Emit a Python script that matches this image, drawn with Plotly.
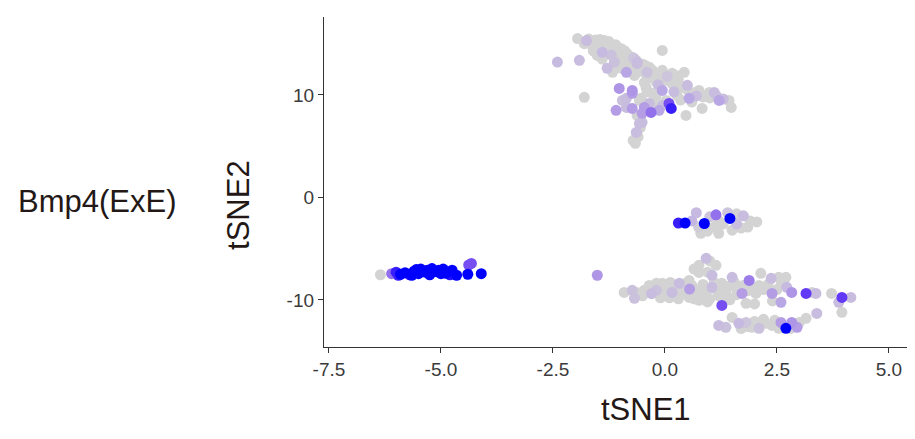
import plotly.graph_objects as go

# ---- data (tSNE coordinates and Bmp4 expression, 0=none, 1=max) ----
# cluster A (left, high expression)
a_x = [-6.35, -6.1, -6.0, -5.9, -5.8, -5.7, -5.6, -5.5, -5.45, -5.35, -5.25, -5.2, -5.1, -5.0,
       -4.95, -4.85, -4.8, -4.75, -4.65, -5.65, -5.55, -5.05, -4.4, -4.1, -4.38, -4.32, -5.95, -5.3, -4.9]
a_y = [-7.55, -7.45, -7.3, -7.5, -7.35, -7.55, -7.2, -7.45, -7.0, -7.3, -7.55, -6.95, -7.25, -7.45,
       -7.0, -7.3, -7.55, -7.1, -7.6, -7.6, -7.05, -7.1, -7.5, -7.45, -6.6, -6.45, -7.6, -7.1, -7.4]
a_e = [0.0, 0.75, 0.95, 1.0, 1.0, 0.95, 1.0, 1.0, 1.0, 1.0, 1.0, 1.0, 1.0, 1.0,
       1.0, 1.0, 0.97, 1.0, 1.0, 1.0, 1.0, 1.0, 1.0, 1.0, 0.85, 0.85, 0.95, 1.0, 1.0]

# cluster B (small, centre)
b_x = [0.45, 0.88, 1.45, 1.14, 0.7, 0.6, 0.75, 0.95, 1.1, 1.2, 1.3, 1.5, 1.6, 1.75, 1.9, 2.05,
       1.85, 1.4, 1.0, 0.8, 1.6, 1.2, 0.3, 1.7]
b_y = [-2.5, -2.55, -2.05, -1.7, -1.5, -2.3, -2.9, -3.3, -2.9, -3.5, -2.6, -3.2, -2.6, -1.8, -2.3, -2.4,
       -2.9, -1.5, -1.9, -3.5, -1.6, -2.3, -2.5, -3.0]
b_e = [1.0, 1.0, 1.0, 0.75, 0.35, 0.4, 0.1, 0.0, 0.0, 0.0, 0.0, 0.0, 0.3, 0.3, 0.0, 0.0,
       0.0, 0.2, 0.2, 0.0, 0.0, 0.0, 0.95, 0.0]

# cluster C (top)
c_x = [-1.95, -1.75, -1.62, -1.35, -1.5, -1.4, -1.2, -0.97, -1.1, -1.25, -0.84, -0.91, -1.13, -1.29,
       -1.17, -0.97, -0.75, -0.62, -0.86, -0.68, -0.53, -0.40, -0.46, -1.58, -1.51, -1.3, -1.05, -0.9,
       -1.0, -0.8, -0.7, -0.6, -0.5, -1.4, -1.2, -1.6, -1.8, -1.45, -0.35, -0.28, -0.62,
       -2.4, -1.91, -1.80, -0.06,
       -0.06, 0.16, 0.43, 0.50, 0.16, -0.06, -0.28, -0.42, -1.02, -0.73, -0.95, -0.57, -0.35, 0.09,
       0.03, 0.27, 0.54, 0.76, 0.99, 1.10, 1.21, 1.43, 1.48, 0.83, 0.47, 0.14, -0.13, -0.51, -0.51,
       -0.73, -0.86, -1.09, -0.73, -0.86, -0.46, -0.62, -0.57, -0.64, -0.71, -0.66, -0.31, -0.53,
       0.32, 0.5, 0.65, 0.85, 1.0, 1.15, 1.3, 0.2, 0.35, -0.2, -0.4, -0.25, 0.05, -0.15, 0.3, 0.6,
       0.7, -0.05, -0.2, -0.55, -0.6,
       -1.7, -1.55, -1.3, -1.15, -1.0, -0.85, -0.75, -0.65, -0.45, -0.3, -0.15, -0.55, -0.8, -1.05,
       -1.35, -1.65, -0.2, 0.0, 0.25, -0.4, -0.7, -0.95]
c_y = [15.5, 15.3, 15.1, 15.3, 15.0, 14.15, 14.6, 14.5, 14.9, 15.2, 13.85, 13.2, 13.2, 12.6,
       12.2, 12.6, 12.9, 13.2, 12.2, 11.9, 12.6, 12.2, 11.2, 14.6, 13.85, 14.0, 14.0, 14.3,
       13.6, 13.4, 13.6, 12.9, 13.0, 13.5, 13.9, 14.3, 15.0, 15.4, 12.7, 12.4, 13.07,
       13.2, 13.37, 9.76, 14.34,
       12.4, 12.1, 12.2, 10.93, 11.1, 10.44, 10.15, 10.73, 10.63, 10.15, 9.46, 9.46, 9.17, 9.17,
       9.46, 9.95, 9.66, 10.44, 10.24, 10.24, 9.46, 9.46, 8.78, 8.68, 8.0, 8.68, 8.49, 8.20, 7.32,
       10.44, 9.66, 8.49, 8.68, 8.78, 8.78, 8.0, 7.22, 6.34, 5.56, 5.27, 8.29, 9.66,
       10.63, 10.5, 10.2, 9.8, 9.7, 9.9, 9.6, 10.3, 9.5, 9.8, 10.3, 11.6, 11.8, 11.0, 11.5, 9.3,
       9.9, 9.0, 8.8, 6.8, 5.9,
       15.45, 15.35, 15.0, 14.7, 14.2, 14.05, 13.7, 13.4, 12.9, 12.1, 12.0, 12.3, 12.5, 12.9,
       14.6, 14.9, 11.3, 11.4, 11.9, 11.6, 12.7, 13.1]
c_e = [0.0, 0.3, 0.0, 0.0, 0.0, 0.35, 0.0, 0.0, 0.0, 0.0, 0.0, 0.0, 0.25, 0.3,
       0.0, 0.0, 0.0, 0.3, 0.5, 0.0, 0.0, 0.25, 0.0, 0.0, 0.0, 0.0, 0.0, 0.0,
       0.0, 0.0, 0.2, 0.0, 0.0, 0.0, 0.25, 0.0, 0.0, 0.0, 0.0, 0.0, 0.3,
       0.35, 0.3, 0.0, 0.0,
       0.0, 0.0, 0.0, 0.3, 0.0, 0.5, 0.0, 0.0, 0.6, 0.55, 0.25, 0.0, 0.3, 0.85,
       0.0, 0.0, 0.5, 0.0, 0.0, 0.3, 0.5, 0.0, 0.0, 0.0, 0.0, 0.95, 0.5, 0.55, 0.3,
       0.6, 0.3, 0.55, 0.55, 0.3, 0.55, 0.0, 0.3, 0.3, 0.0, 0.0, 0.75, 0.0,
       0.0, 0.0, 0.0, 0.0, 0.0, 0.2, 0.3, 0.3, 0.0, 0.0, 0.0, 0.0, 0.2, 0.3, 0.0, 0.0,
       0.3, 0.3, 0.0, 0.0, 0.0,
       0.0, 0.0, 0.0, 0.0, 0.0, 0.0, 0.0, 0.0, 0.0, 0.0, 0.0, 0.0, 0.0, 0.0,
       0.0, 0.0, 0.0, 0.0, 0.0, 0.0, 0.0, 0.0]

# cluster D (bottom right)
d_x = [-1.51, -0.91, -0.73, -0.68, -0.46, -0.35, -0.19, -0.19, -0.06, 0.03, 0.16, 0.32, 0.32, 0.47,
       0.54, 0.76, 0.92, 0.76, 1.14, 1.05, 0.54, 0.76, 0.92, 1.05, 1.27, 1.36, 1.27, 1.50, 1.59,
       1.72, 1.88, 1.81, 2.03, 2.14, 2.37, 2.54, 2.39, 2.59, 2.70, 2.72, 2.83, 3.15, 3.28, 3.37,
       3.72, 3.95, 4.15, 3.88, 3.95, 3.39,
       1.50, 1.36, 1.65, 1.81, 1.94, 2.10, 2.25, 2.39, 2.59, 2.70, 2.83, 2.95, 3.15, 2.54,
       -0.28, 0.0, 0.1, 0.25, 0.4, 0.6, 0.7, 0.85, 0.88, 1.0, 1.15, 1.2, 1.4, 1.45, 1.6, 1.75,
       1.95, 2.2, 2.3, 2.5, 0.3, 0.12, -0.5, -0.3, 0.55, 0.1, 0.65, 0.95, 1.0, 0.65, 0.95, 1.3,
       2.0, 2.4, 2.2, 2.0, 1.7, 2.8, 1.2, 3.0,
       0.2, 0.45, 0.8, 1.1, 1.3, 1.55, 1.85, 2.1, 2.6, -0.6, -0.1, 2.05, 2.45, 1.85]
d_y = [-7.6, -9.27, -9.07, -9.85, -9.07, -8.59, -9.07, -8.39, -8.39, -9.37, -9.27, -8.39, -9.37, -8.78,
       -8.10, -6.63, -5.95, -7.32, -6.63, -7.61, -9.76, -10.05, -9.37, -8.78, -8.39, -9.37, -10.54, -7.80, -8.88,
       -9.37, -8.10, -10.34, -9.37, -7.41, -7.90, -7.80, -9.37, -10.24, -7.80, -8.78, -9.27, -9.37, -9.27, -9.37,
       -9.37, -9.76, -9.76, -10.24, -11.22, -11.32,
       -11.71, -12.68, -12.29, -12.20, -12.68, -12.78, -12.29, -12.49, -12.20, -12.78, -12.20, -12.68, -11.80, -12.78,
       -8.9, -8.7, -9.8, -8.85, -9.2, -8.6, -9.0, -8.5, -9.6, -9.9, -9.0, -9.6, -8.7, -10.0, -9.5, -8.6,
       -8.8, -9.0, -8.5, -9.0, -9.9, -8.3, -9.6, -9.4, -8.95, -9.35, -7.0, -7.3, -6.2, -9.9, -10.2, -9.9,
       -10.4, -10.1, -11.9, -12.1, -12.8, -12.8, -12.5, -12.2,
       -9.0, -8.4, -9.2, -8.3, -9.2, -8.3, -9.1, -8.6, -8.4, -9.3, -9.8, -12.5, -12.0, -12.6]
d_e = [0.6, 0.0, 0.25, 0.25, 0.0, 0.0, 0.25, 0.0, 0.0, 0.0, 0.3, 0.3, 0.0, 0.0,
       0.0, 0.0, 0.3, 0.0, 0.0, 0.3, 0.0, 0.0, 0.0, 0.3, 0.0, 0.0, 0.85, 0.3, 0.0,
       0.55, 0.7, 0.0, 0.0, 0.0, 0.3, 0.0, 0.55, 0.5, 0.0, 0.35, 0.6, 0.9, 0.0, 0.3,
       0.0, 0.9, 0.3, 0.3, 0.0, 0.3,
       0.0, 0.25, 0.35, 0.2, 0.0, 0.25, 0.0, 0.0, 0.55, 1.0, 0.6, 0.55, 0.0, 0.0,
       0.0, 0.0, 0.0, 0.0, 0.0, 0.0, 0.0, 0.0, 0.0, 0.0, 0.0, 0.0, 0.0, 0.0, 0.0, 0.0,
       0.0, 0.0, 0.0, 0.0, 0.0, 0.0, 0.0, 0.3, 0.55, 0.0, 0.0, 0.0, 0.0, 0.0, 0.0, 0.0,
       0.0, 0.0, 0.0, 0.0, 0.0, 0.0, 0.3, 0.0,
       0.0, 0.0, 0.0, 0.0, 0.0, 0.0, 0.0, 0.0, 0.0, 0.0, 0.0, 0.0, 0.0, 0.0]

x_ticks = [-7.5, -5.0, -2.5, 0.0, 2.5, 5.0]
x_tick_labels = ["-7.5", "-5.0", "-2.5", "0.0", "2.5", "5.0"]
y_ticks = [-10, 0, 10]
y_tick_labels = ["-10", "0", "10"]
gene_label = "Bmp4(ExE)"

# ---- build ----
xs = a_x + b_x + c_x + d_x
ys = a_y + b_y + c_y + d_y
es = a_e + b_e + c_e + d_e
order = sorted(range(len(xs)), key=lambda i: es[i])
xs = [xs[i] for i in order]
ys = [ys[i] for i in order]
es = [es[i] for i in order]

colorscale = [[0.0, "#D3D3D3"], [0.4, "#C4B6E2"], [0.6, "#AE95E6"], [0.8, "#8A63EE"],
              [0.92, "#5A30F8"], [1.0, "#0000FF"]]

fig = go.Figure(go.Scatter(
    x=xs, y=ys, mode="markers",
    marker=dict(size=11, color=es, colorscale=colorscale, cmin=0, cmax=1,
                line=dict(width=0), showscale=False),
    hoverinfo="skip",
))

font_family = "Liberation Sans, Arial, sans-serif"
axis_common = dict(showgrid=False, zeroline=False, showline=True, linecolor="#333333", linewidth=1.3,
                   ticks="outside", ticklen=5, tickwidth=1.3, tickcolor="#333333", automargin=False,
                   tickfont=dict(family=font_family, size=19, color="#3b3b3b"), mirror=False)

# the page body adds an 8px offset, so the figure is 8px smaller and margins shifted
fig.update_layout(
    width=907, height=431,
    margin=dict(l=316, r=5, t=9, b=92, autoexpand=False),
    paper_bgcolor="white", plot_bgcolor="white",
    showlegend=False,
    xaxis=dict(range=[-7.61, 5.47], tickvals=x_ticks, ticktext=x_tick_labels, **axis_common),
    yaxis=dict(range=[-14.6, 17.6], tickvals=y_ticks, ticktext=y_tick_labels, **axis_common),
    annotations=[
        dict(text="tSNE1", xref="paper", yref="paper", x=0.55, y=-0.19, showarrow=False,
             xanchor="center", yanchor="middle", font=dict(family=font_family, size=31, color="#231815")),
        dict(text="tSNE2", xref="paper", yref="paper", x=-0.147, y=0.43, showarrow=False, textangle=-90,
             xanchor="center", yanchor="middle", font=dict(family=font_family, size=31, color="#231815")),
        dict(text=gene_label, xref="paper", yref="paper", x=-0.387, y=0.44, showarrow=False,
             xanchor="center", yanchor="middle", font=dict(family=font_family, size=31, color="#231815")),
    ],
)

fig.write_html("out.html")
